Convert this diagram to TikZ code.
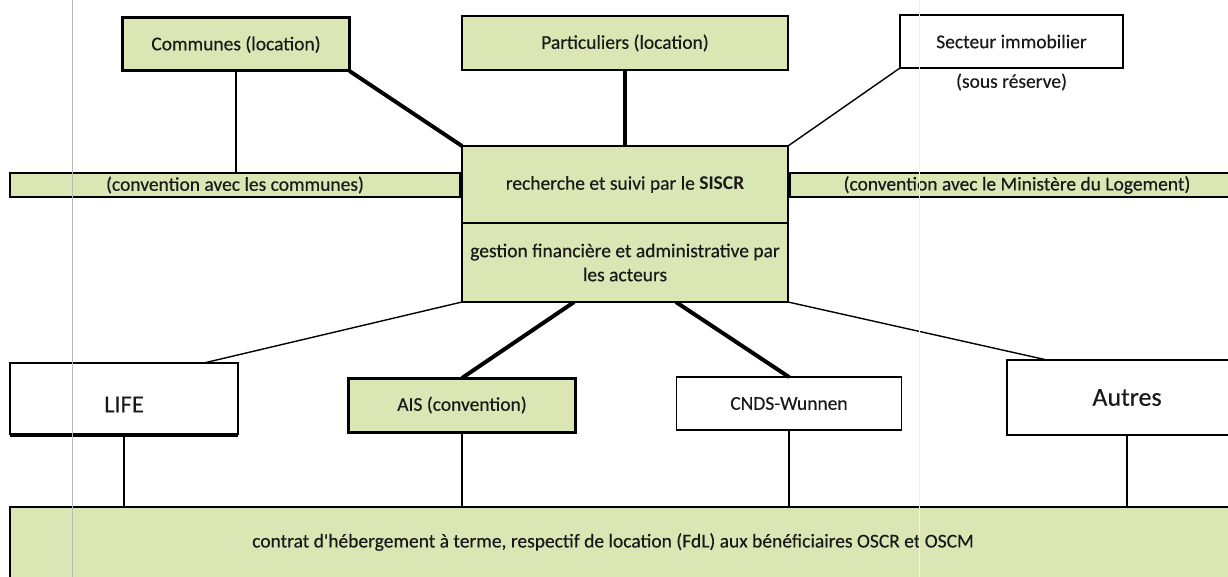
\documentclass[tikz,border=0pt]{standalone}
\usepackage{fontspec}
\setmainfont{Carlito}[Ligatures=TeXOff, UprightFeatures={FakeBold=0.3}]
\usetikzlibrary{calc,backgrounds}
\definecolor{lgreen}{RGB}{218,230,180}
\definecolor{ink}{RGB}{25,25,25}
\begin{document}
\begin{tikzpicture}[x=1pt,y=-1pt,
  box/.style={draw=black,inner sep=0pt,outer sep=0pt,text=ink,
    font=\fontsize{19.5}{24}\selectfont,align=center,line width=1.6pt},
  gbox/.style={box,fill=lgreen},
  plain/.style={inner sep=0pt,outer sep=0pt,text=ink,font=\fontsize{19.5}{24}\selectfont,align=center},
  thicklink/.style={line width=4pt},
  thinlink/.style={line width=1.4pt},
]
\useasboundingbox (0,0) rectangle (1228,577);
\clip (0,0) rectangle (1228,577);

% top row
\node[gbox,line width=3pt,minimum width=227pt,minimum height=53pt] (comm) at (236,44.5) {Communes (location)};
\node[gbox,line width=2.5pt,minimum width=326pt,minimum height=54pt] (part) at (625,43) {Particuliers (location)};
\node[box,minimum width=223pt,minimum height=53pt] (sect) at (1011.5,41.5) {Secteur immobilier};
\node[plain] (sous) at (1011.5,82) {(sous réserve)};

% convention bars
\node[gbox,line width=1.8pt,minimum width=450pt,minimum height=24pt] (convL) at (235,185) {(convention avec les communes)};
\node[gbox,line width=1.8pt,minimum width=454pt,minimum height=24pt] (convR) at (1017,185) {(convention avec le Ministère du Logement)};

% centre
\node[gbox,line width=2pt,minimum width=326pt,minimum height=77pt] (siscr) at (625,184.5) {recherche et suivi par le \textbf{SISCR}};
\node[gbox,line width=2pt,minimum width=326pt,minimum height=79pt] (gest) at (625,262.5) {gestion financière et administrative par\\les acteurs};

% actors
\node[box,minimum width=228pt,minimum height=71pt] (life) at (124,398.5) {};
\node[plain,font=\fontsize{24.5}{28}\selectfont] (lifetext) at ([yshift=-6pt]life.center) {LIFE};
\node[gbox,line width=3pt,minimum width=227pt,minimum height=54pt] (ais) at (462,405) {AIS (convention)};
\node[box,minimum width=225pt,minimum height=53pt] (cnds) at (789,403.5) {CNDS-Wunnen};
\node[box,minimum width=240pt,minimum height=75pt,font=\fontsize{26}{30}\selectfont] (autres) at (1127,397.5) {Autres};

% bottom bar
\node[gbox,line width=2.5pt,minimum width=1240pt,minimum height=93pt] (bar) at (630,553.5) {};
\node[plain] (bartext) at (613,542) {contrat d'hébergement à terme, respectif de location (FdL) aux bénéficiaires OSCR et OSCM};

% heavier lower edges (as printed)
\draw[line width=3.5pt] ([yshift=-1pt]life.south west) -- ([yshift=-1pt]life.south east);
\draw[line width=3.5pt] ([yshift=-0.5pt]ais.south west) -- ([yshift=-0.5pt]ais.south east);

\begin{scope}[on background layer]
  \fill[white] (0,0) rectangle (1228,577);
  \draw[thicklink] (comm.south east) -- (siscr.north west);
  \draw[thicklink,line width=3.5pt] (part.south) -- (siscr.north);
  \draw[thinlink] (sect.south west) -- (siscr.north east);
  \draw[thinlink] (comm.south) -- (comm.south |- convL.north);
  \draw[thinlink] (gest.south west) -- ($(life.north west)!0.85!(life.north east)$);
  \draw[thicklink] ($(gest.south west)!0.344!(gest.south east)$) -- (ais.north);
  \draw[thicklink] ($(gest.south west)!0.656!(gest.south east)$) -- (cnds.north);
  \draw[thinlink] (gest.south east) -- ($(autres.north west)+(40,0)$);
  \draw[thinlink] (life.south) -- (life.south |- bar.north);
  \draw[thinlink] (ais.south) -- (ais.south |- bar.north);
  \draw[thinlink] (cnds.south) -- (cnds.south |- bar.north);
  \draw[thinlink] (autres.south) -- (autres.south |- bar.north);
\end{scope}

% scan fold lines
\draw[gray!55,line width=1pt] (72.5,0) -- (72.5,577);
\draw[gray!12,line width=1pt] (919,0) -- (919,577);
\end{tikzpicture}
\end{document}
